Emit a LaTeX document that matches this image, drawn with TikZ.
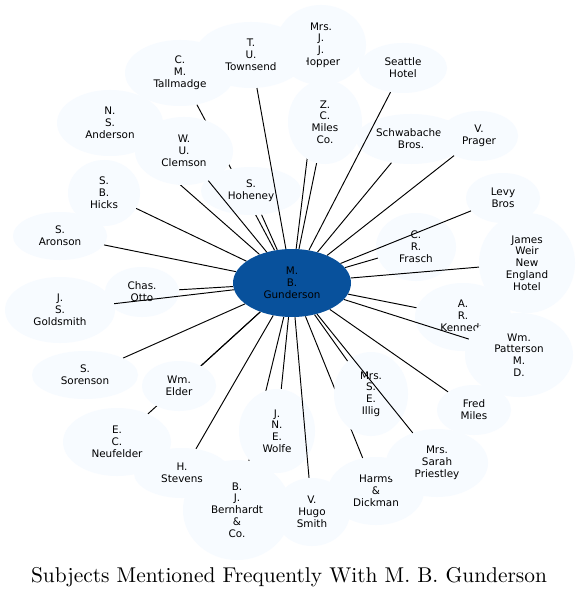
\documentclass[tikz,border=0pt]{standalone}
\usepackage{fontspec}
\newfontfamily\dvs{DejaVu Sans}
\newfontfamily\titlerm{lmroman10-regular.otf}
\usetikzlibrary{shapes.geometric}
\definecolor{leafblue}{HTML}{F7FBFF}
\definecolor{hubblue}{HTML}{08519C}
\newcommand\leaffnt{\dvs\fontsize{10.4}{11.8}\selectfont}
\newcommand\titlefnt{\titlerm\fontsize{21.4}{26}\selectfont}
\pgfdeclarelayer{paper}
\pgfdeclarelayer{edgesbg}
\pgfdeclarelayer{edgesfg}
\pgfsetlayers{paper,edgesbg,main,edgesfg}
\tikzset{
  leaf/.style={ellipse, fill=leafblue, inner sep=0pt, align=center, font=\leaffnt},
  hub/.style={ellipse, fill=hubblue, inner sep=0pt, align=center, font=\leaffnt, text=black},
  sz/.style n args={2}{minimum width=#1pt, minimum height=#2pt},
  link/.style={draw=black, line width=0.95pt}
}
\begin{document}
\begin{tikzpicture}[x=1pt,y=-1pt]
\begin{pgfonlayer}{paper}
\fill[white] (0,0) rectangle (580,596);
\end{pgfonlayer}
\useasboundingbox (0,0) rectangle (580,596);
% leaves (drawing order matters for overlaps)
\node[leaf,sz={106}{66}] (anderson) at (110,123) {N.\\S.\\Anderson};
\node[leaf,sz={110}{66}] (tallmadge) at (180,73) {C.\\M.\\Tallmadge};
\node[leaf,sz={90}{80}] (hopper) at (321,45) {Mrs.\\J.\\J.\\Hopper};
\node[leaf,sz={112}{66}] (townsend) at (251,55) {T.\\U.\\Townsend};
\node[leaf,sz={98}{68}] (clemson) at (184,151) {W.\\U.\\Clemson};
\node[leaf,sz={100}{48}] (hoheney) at (251,191) {S.\\Hoheney};
\node[leaf,sz={72}{66}] (hicks) at (104,193) {S.\\B.\\Hicks};
\node[leaf,sz={94}{48}] (aronson) at (60,236) {S.\\Aronson};
\node[leaf,sz={110}{66}] (goldsmith) at (60,310) {J.\\S.\\Goldsmith};
\node[leaf,sz={74}{50}] (otto) at (142,292) {Chas.\\Otto};
\node[leaf,sz={106}{48}] (sorenson) at (85,375) {S.\\Sorenson};
\node[leaf,sz={74}{50}] (elder) at (179,386) {Wm.\\Elder};
\node[leaf,sz={108}{68}] (neufelder) at (117,442) {E.\\C.\\Neufelder};
\node[leaf,sz={108}{100}] (bernhardt) at (237,510) {B.\\J.\\Bernhardt\\\&\\Co.};
\node[leaf,sz={96}{50}] (stevens) at (182,473) {H.\\Stevens};
\node[leaf,sz={76}{84}] (wolfe) at (277,431) {J.\\N.\\E.\\Wolfe};
\node[leaf,sz={76}{68}] (smith) at (312,512) {V.\\Hugo\\Smith};
\node[leaf,sz={96}{68}] (harms) at (376,491) {Harms\\\&\\Dickman};
\node[leaf,sz={74}{84}] (illig) at (371,394) {Mrs.\\S.\\E.\\Illig};
\node[leaf,sz={102}{68}] (priestley) at (437,463) {Mrs.\\Sarah\\Priestley};
\node[leaf,sz={74}{50}] (fredmiles) at (474,410) {Fred\\Miles};
\node[leaf,sz={96}{68}] (kennedy) at (463,317) {A.\\R.\\Kennedy};
\node[leaf,sz={96}{100}] (weir) at (527,263) {James\\Weir\\New\\England\\Hotel};
\node[leaf,sz={108}{84}] (patterson) at (519,355) {Wm.\\Patterson\\M.\\D.};
\node[leaf,sz={74}{50}] (levy) at (503,198) {Levy\\Bros};
\node[leaf,sz={80}{68}] (frasch) at (416,247) {C.\\R.\\Frasch};
\node[leaf,sz={110}{50}] (schwabacher) at (411,139) {Schwabacher\\Bros.};
\node[leaf,sz={78}{50}] (prager) at (479,136) {V.\\Prager};
\node[leaf,sz={74}{84}] (milesco) at (325,122) {Z.\\C.\\Miles\\Co.};
\node[leaf,sz={88}{50}] (seattle) at (403,68) {Seattle\\Hotel};
% hub
\node[hub,sz={118}{68}] (hub) at (292,283) {M.\\B.\\Gunderson};
% edges hidden by other ellipses
\begin{pgfonlayer}{edgesbg}
\foreach \n in {anderson,tallmadge,hopper,hoheney,hicks,aronson,otto,sorenson,elder,neufelder,stevens,bernhardt,wolfe,harms,illig,fredmiles,kennedy,frasch,schwabacher,prager,milesco}
  \draw[link] (hub) -- (\n);
\end{pgfonlayer}
% edges drawn over other ellipses
\begin{pgfonlayer}{edgesfg}
\foreach \n in {townsend,clemson,goldsmith,smith,priestley,patterson,weir,levy,seattle}
  \draw[link] (hub) -- (\n);
\end{pgfonlayer}
% title
\node[font=\titlefnt, anchor=base] (title) at (289,582) {Subjects Mentioned Frequently With M. B. Gunderson};
\end{tikzpicture}
\end{document}
